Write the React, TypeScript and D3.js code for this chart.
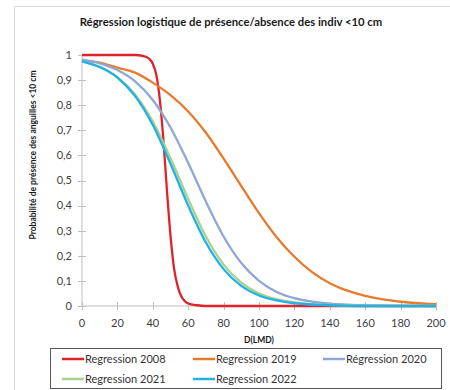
import React from 'react';
import * as d3 from 'd3';

// D(LMD) sample points
const dist = [0, 10, 20, 30, 40, 50, 60, 70, 80, 90, 100, 110, 120, 130, 140, 150, 160, 170, 180, 190, 200];
const dist2008 = [0, 10, 20, 30, 32, 34, 36, 38, 40, 42, 44, 46, 48, 50, 52, 54, 56, 58, 60, 65, 70, 80, 100, 150, 200];

const reg2008 = [1, 1, 1, 1, 0.999, 0.997, 0.993, 0.985, 0.965, 0.92, 0.82, 0.66, 0.46, 0.28, 0.15, 0.08, 0.04, 0.02, 0.01, 0.003, 0, 0, 0, 0, 0];
const reg2019 = [0.98, 0.97, 0.95, 0.93, 0.89, 0.84, 0.775, 0.69, 0.587, 0.478, 0.37, 0.274, 0.196, 0.135, 0.091, 0.061, 0.04, 0.026, 0.017, 0.011, 0.007];
const reg2020 = [0.982, 0.967, 0.94, 0.895, 0.821, 0.711, 0.57, 0.416, 0.277, 0.171, 0.1, 0.056, 0.031, 0.017, 0.009, 0.005, 0.003, 0.001, 0, 0, 0];
const reg2021 = [0.975, 0.953, 0.912, 0.843, 0.735, 0.589, 0.426, 0.277, 0.165, 0.093, 0.05, 0.027, 0.014, 0.007, 0.004, 0.002, 0.001, 0, 0, 0, 0];
const reg2022 = [0.975, 0.952, 0.91, 0.836, 0.721, 0.567, 0.4, 0.253, 0.147, 0.08, 0.042, 0.022, 0.011, 0.006, 0.003, 0.001, 0, 0, 0, 0, 0];

const xTicks = [0, 20, 40, 60, 80, 100, 120, 140, 160, 180, 200];
const yTicks = [0, 0.1, 0.2, 0.3, 0.4, 0.5, 0.6, 0.7, 0.8, 0.9, 1];

const series = [
  { name: 'Regression 2008', xs: dist2008, ys: reg2008, color: '#e0232b' },
  { name: 'Regression 2019', xs: dist, ys: reg2019, color: '#e87a2c' },
  { name: 'Régression 2020', xs: dist, ys: reg2020, color: '#8fa7d6' },
  { name: 'Regression 2021', xs: dist, ys: reg2021, color: '#a9d18e' },
  { name: 'Regression 2022', xs: dist, ys: reg2022, color: '#1fb1e8' },
];

const font = 'Lato, "Open Sans", sans-serif';
const axisColor = '#bfbfbf';

export default function App() {
  const x = d3.scaleLinear().domain([0, 200]).range([82, 436]);
  const y = d3.scaleLinear().domain([0, 1]).range([306, 55]);

  const line = d3
    .line<[number, number]>()
    .x(d => x(d[0]))
    .y(d => y(d[1]))
    .curve(d3.curveMonotoneX);

  const fmt = (v: number) => String(Math.round(v * 10) / 10).replace('.', ',');

  // legend slots: [lineStartX, rowY]
  const legendPos = [
    [62, 359],
    [193, 359],
    [323, 359],
    [62, 379],
    [193, 379],
  ];

  return (
    <svg width={450} height={390} style={{ position: 'absolute', left: 0, top: 0 }} fontFamily={font}>
      <rect x={0} y={0} width={450} height={390} fill="#fff" />
      {/* chart area border */}
      <line x1={14.5} y1={6.5} x2={450} y2={6.5} stroke="#d9d9d9" />
      <line x1={14.5} y1={6.5} x2={14.5} y2={390} stroke="#d9d9d9" />

      <text x={231} y={26} textAnchor="middle" fontSize={11.3} fontWeight="bold" fill="#1a1a1a">
        Régression logistique de présence/absence des indiv &lt;10 cm
      </text>

      {/* axes */}
      <line x1={x(0)} y1={y(0)} x2={x(200)} y2={y(0)} stroke={axisColor} />
      <line x1={x(0)} y1={y(0)} x2={x(0)} y2={y(1)} stroke={axisColor} />
      {yTicks.map(t => (
        <g key={'y' + t}>
          <line x1={x(0) - 4} x2={x(0) + 4} y1={Math.round(y(t)) + 0.5} y2={Math.round(y(t)) + 0.5} stroke={axisColor} />
          <text x={72} y={y(t)} dy="0.35em" textAnchor="end" fontSize={11} fill="#404040">
            {fmt(t)}
          </text>
        </g>
      ))}
      {xTicks.map(t => (
        <g key={'x' + t}>
          <line x1={Math.round(x(t)) + 0.5} x2={Math.round(x(t)) + 0.5} y1={y(0) - 4} y2={y(0) + 4} stroke={axisColor} />
          <text x={x(t)} y={327} textAnchor="middle" fontSize={11} fill="#404040">
            {t}
          </text>
        </g>
      ))}

      <text x={259} y={343} textAnchor="middle" fontSize={8.5} fontWeight="bold" fill="#1a1a1a">
        D(LMD)
      </text>
      <text
        transform="translate(36,155) rotate(-90)"
        textAnchor="middle"
        fontSize={8.5}
        fontWeight="bold"
        fill="#1a1a1a"
      >
        Probabilité de présence des anguilles  &lt;10 cm
      </text>

      {/* curves */}
      {series.map(s => (
        <path
          key={s.name}
          d={line(s.xs.map((v, i) => [v, s.ys[i]] as [number, number])) || ''}
          fill="none"
          stroke={s.color}
          strokeWidth={2.3}
        />
      ))}

      {/* legend */}
      <rect x={50.5} y={348.5} width={391} height={40} fill="#fff" stroke="#595959" />
      {series.map((s, i) => {
        const [lx, ly] = legendPos[i];
        return (
          <g key={'lg' + s.name}>
            <line x1={lx} x2={lx + 22} y1={ly} y2={ly} stroke={s.color} strokeWidth={2.5} />
            <text x={lx + 23} y={ly} dy="0.35em" fontSize={11} fill="#333">
              {s.name}
            </text>
          </g>
        );
      })}
    </svg>
  );
}
